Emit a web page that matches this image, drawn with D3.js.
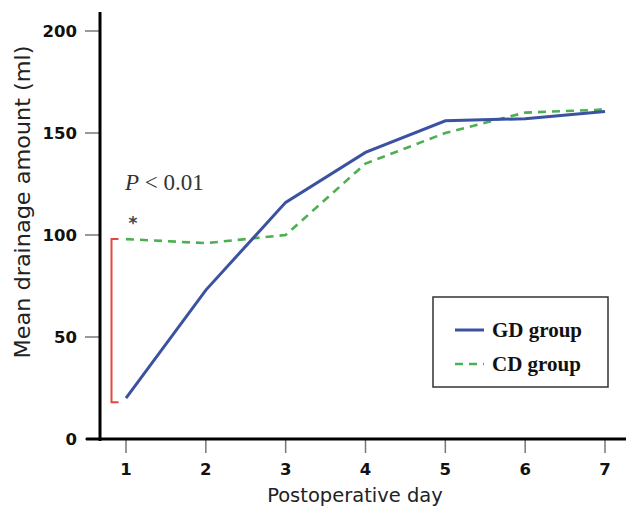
<!DOCTYPE html>
<html><head><meta charset="utf-8">
<script src="https://cdn.jsdelivr.net/npm/d3@7"></script>
<style>body{margin:0;background:#fff}svg{display:block}</style>
</head><body>
<svg id="c" width="626" height="509"></svg>
<script>
const days = [1, 2, 3, 4, 5, 6, 7];
const gdValues = [20, 73, 116, 140.5, 156, 157, 160.5];
const cdValues = [98, 96, 100, 135, 150, 160, 161.5];
const yTicks = [0, 50, 100, 150, 200];
const seriesNames = ["GD group", "CD group"];

const svg = d3.select("#c");
const x = d3.scaleLinear().domain([1, 7]).range([126, 605]);
const y = d3.scaleLinear().domain([0, 200]).range([439, 31]);

// y axis ticks and labels
const yAx = svg.append("g");
yAx.selectAll("line").data(yTicks).join("line")
  .attr("x1", 85).attr("x2", 100).attr("y1", d => y(d)).attr("y2", d => y(d))
  .attr("stroke", "#777").attr("stroke-width", 1.5);
yAx.selectAll("text").data(yTicks).join("text")
  .attr("x", 77).attr("y", d => y(d)).attr("dy", "0.36em")
  .attr("text-anchor", "end").attr("font-family", "DejaVu Sans").attr("font-weight", "bold")
  .attr("font-size", 16.5).attr("fill", "#111").text(d => d);

// x axis ticks and labels
const xAx = svg.append("g");
xAx.selectAll("line").data(days).join("line")
  .attr("x1", d => x(d)).attr("x2", d => x(d)).attr("y1", 439).attr("y2", 453)
  .attr("stroke", "#777").attr("stroke-width", 1.5);
xAx.selectAll("text").data(days).join("text")
  .attr("x", d => x(d)).attr("y", 475)
  .attr("text-anchor", "middle").attr("font-family", "DejaVu Sans").attr("font-weight", "bold")
  .attr("font-size", 16.5).attr("fill", "#111").text(d => d);

// axis lines
svg.append("line").attr("x1", 86).attr("x2", 626).attr("y1", 439).attr("y2", 439)
  .attr("stroke", "#000").attr("stroke-width", 3);
svg.append("line").attr("x1", 100).attr("x2", 100).attr("y1", 12).attr("y2", 441)
  .attr("stroke", "#000").attr("stroke-width", 3);

// axis titles
svg.append("text").attr("x", 355).attr("y", 502).attr("text-anchor", "middle")
  .attr("font-family", "DejaVu Sans").attr("font-size", 19.5).attr("fill", "#222")
  .text("Postoperative day");
svg.append("text").attr("transform", "translate(30,202) rotate(-90)")
  .attr("text-anchor", "middle").attr("font-family", "DejaVu Sans").attr("font-size", 21)
  .attr("fill", "#222").attr("textLength", 313).attr("lengthAdjust", "spacingAndGlyphs")
  .text("Mean drainage amount (ml)");

// significance bracket
const bx = 111.5, bTick = 7;
svg.append("path")
  .attr("d", `M${bx + bTick},${y(cdValues[0])}H${bx}V${y(18)}H${bx + bTick}`)
  .attr("fill", "none").attr("stroke", "#e04a3c").attr("stroke-width", 2);
const pt = svg.append("text").attr("x", 125).attr("y", 190)
  .attr("font-family", "Liberation Serif").attr("font-size", 23).attr("fill", "#333");
pt.append("tspan").attr("font-style", "italic").text("P");
pt.append("tspan").text(" < 0.01");
svg.append("text").attr("x", 133).attr("y", 229).attr("text-anchor", "middle")
  .attr("font-family", "DejaVu Sans").attr("font-weight", "bold").attr("font-size", 17)
  .attr("fill", "#444").text("*");

// lines
const line = d3.line().x((d, i) => x(days[i])).y(d => y(d));
svg.append("path").datum(cdValues).attr("d", line).attr("fill", "none")
  .attr("stroke", "#4caf50").attr("stroke-width", 2.6).attr("stroke-dasharray", "8,6");
svg.append("path").datum(gdValues).attr("d", line).attr("fill", "none")
  .attr("stroke", "#3a52a0").attr("stroke-width", 3);

// legend
const lg = svg.append("g");
lg.append("rect").attr("x", 433).attr("y", 297).attr("width", 175).attr("height", 90)
  .attr("fill", "#fff").attr("stroke", "#333").attr("stroke-width", 1.5);
const legY = [330, 364];
lg.append("line").attr("x1", 455).attr("x2", 484).attr("y1", legY[0]).attr("y2", legY[0])
  .attr("stroke", "#3a52a0").attr("stroke-width", 3);
lg.append("line").attr("x1", 455).attr("x2", 484).attr("y1", legY[1]).attr("y2", legY[1])
  .attr("stroke", "#4caf50").attr("stroke-width", 2.6).attr("stroke-dasharray", "8,6");
lg.selectAll("text").data(seriesNames).join("text")
  .attr("x", 492).attr("y", (d, i) => legY[i] + 7)
  .attr("font-family", "Liberation Serif").attr("font-weight", "bold").attr("font-size", 21)
  .attr("fill", "#111").text(d => d);
</script>
</body></html>
